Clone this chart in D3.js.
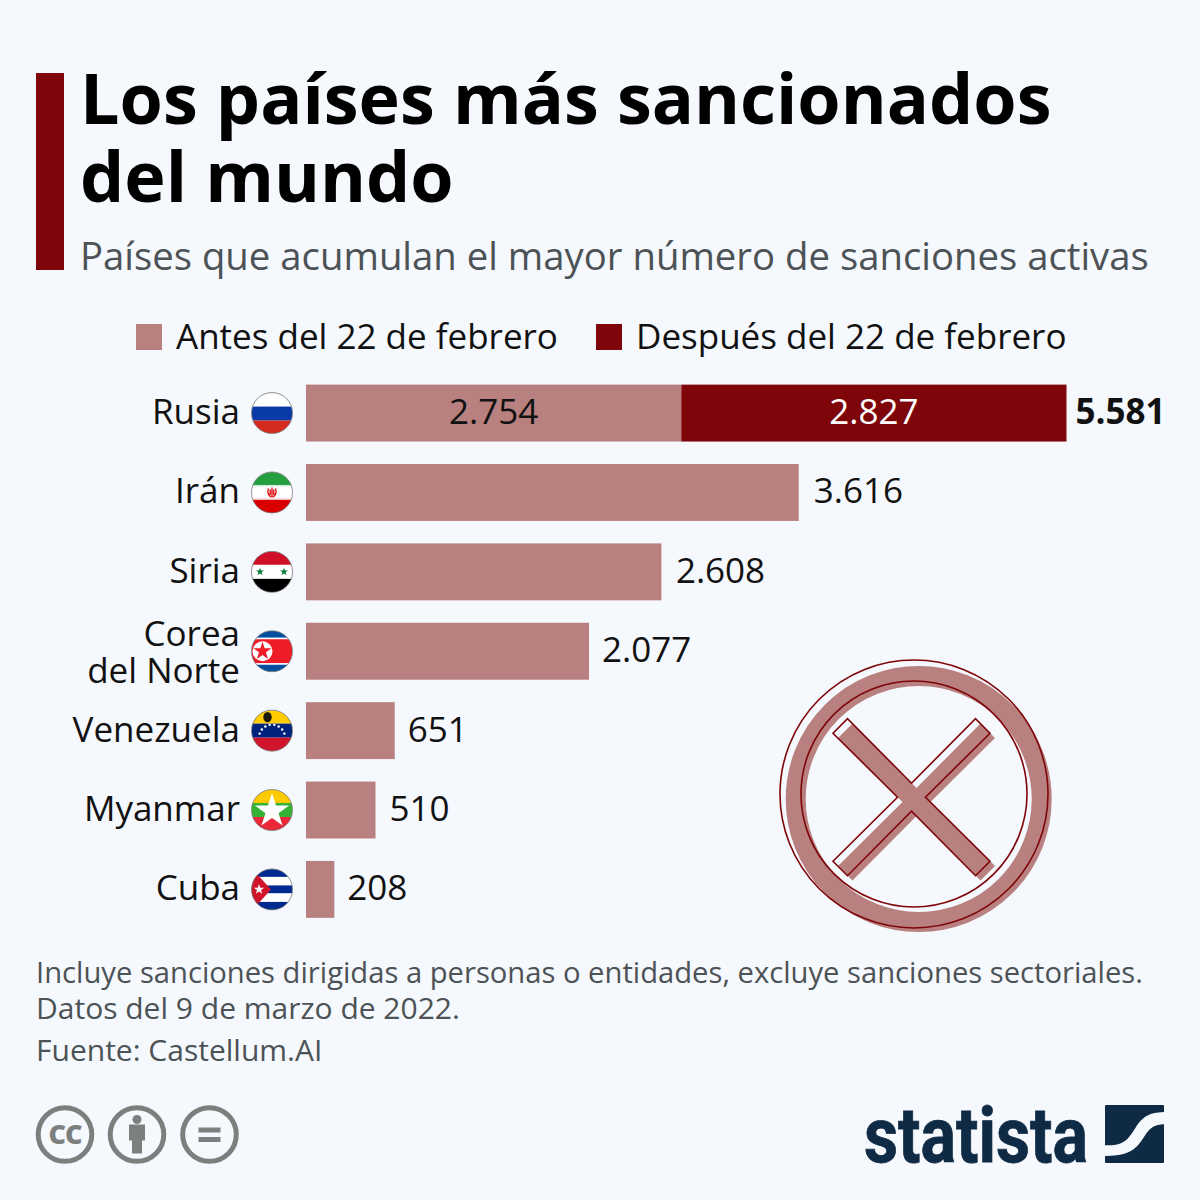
<!DOCTYPE html>
<html lang="es">
<head>
<meta charset="utf-8">
<script src="https://cdn.jsdelivr.net/npm/d3@7"></script>
<style>
  html, body { margin: 0; padding: 0; background: #f5f8fc; }
  svg { display: block; }
  text { font-family: "Open Sans", sans-serif; }
</style>
</head>
<body>
<script>
const countries = ['Rusia', 'Irán', 'Siria', 'Corea del Norte', 'Venezuela', 'Myanmar', 'Cuba'];
const before = [2754, 3616, 2608, 2077, 651, 510, 208];
const after = [2827, 0, 0, 0, 0, 0, 0];
const totalLabels = ['5.581', '3.616', '2.608', '2.077', '651', '510', '208'];
const legendLabels = ['Antes del 22 de febrero', 'Después del 22 de febrero'];
const titleLines = ['Los países más sancionados', 'del mundo'];
const notes = ['Incluye sanciones dirigidas a personas o entidades, excluye sanciones sectoriales.', 'Datos del 9 de marzo de 2022.'];

const fmt = d => d3.format(',')(d).replace(/,/g, '.');
const light = '#b98080', dark = '#7e0509';
const noteColor = '#4c5256';

const svg = d3.select('body').append('svg')
  .attr('width', 1200).attr('height', 1200).attr('viewBox', '0 0 1200 1200');
const defs = svg.append('defs');

// header
svg.append('rect').attr('x', 36).attr('y', 73).attr('width', 28).attr('height', 197).attr('fill', dark);
svg.append('g').selectAll('text').data(titleLines).join('text')
  .attr('x', 80).attr('y', (d, i) => 124 + i * 78)
  .attr('font-size', 70).attr('font-weight', 700).attr('fill', '#000').text(d => d);
svg.append('text').attr('x', 80).attr('y', 270)
  .attr('font-size', 38.3).attr('fill', noteColor)
  .text('Países que acumulan el mayor número de sanciones activas');

// legend
const legendX = [136, 596];
const legend = svg.append('g').selectAll('g').data(legendLabels).join('g')
  .attr('transform', (d, i) => `translate(${legendX[i]},324)`);
legend.append('rect').attr('width', 26).attr('height', 26).attr('fill', (d, i) => i ? dark : light);
legend.append('text').attr('x', 40).attr('y', 25).attr('font-size', 35).attr('fill', '#111').text(d => d);

// scales
const x = d3.scaleLinear().domain([0, 5581]).range([306, 1066.5]);
const y = d3.scaleBand().domain(countries).range([373.5, 929]).paddingInner(0.283).paddingOuter(0.14);
const cy = d => y(d) + y.bandwidth() / 2;

// bars
const rows = svg.append('g').selectAll('g').data(countries).join('g');
rows.append('rect')
  .attr('x', x(0)).attr('y', d => y(d))
  .attr('width', (d, i) => x(before[i]) - x(0)).attr('height', y.bandwidth())
  .attr('fill', light);
rows.filter((d, i) => after[i] > 0).append('rect')
  .attr('x', (d) => x(before[countries.indexOf(d)])).attr('y', d => y(d))
  .attr('width', d => x(before[countries.indexOf(d)] + after[countries.indexOf(d)]) - x(before[countries.indexOf(d)]))
  .attr('height', y.bandwidth()).attr('fill', dark);

// value labels
const labelGap = [9, 15, 14.5, 13, 13, 14, 13];
rows.append('text')
  .attr('x', (d, i) => x(before[i] + after[i]) + labelGap[i])
  .attr('y', d => cy(d) + 11)
  .attr('font-size', 35).attr('font-weight', (d, i) => i === 0 ? 700 : 400).attr('fill', '#111')
  .text((d, i) => totalLabels[i]);
svg.append('text').attr('x', (x(0) + x(before[0])) / 2).attr('y', cy('Rusia') + 11)
  .attr('text-anchor', 'middle').attr('font-size', 35).attr('fill', '#111').text(fmt(before[0]));
svg.append('text').attr('x', (x(before[0]) + x(before[0] + after[0])) / 2 ).attr('y', cy('Rusia') + 11)
  .attr('text-anchor', 'middle').attr('font-size', 35).attr('fill', '#fff').text(fmt(after[0]));

// category labels
rows.each(function (d) {
  const g = d3.select(this);
  const lines = d === 'Corea del Norte' ? ['Corea', 'del Norte'] : [d];
  lines.forEach((l, i) => {
    g.append('text').attr('x', 240).attr('text-anchor', 'end')
      .attr('y', cy(d) + (lines.length > 1 ? 13 : 11) + (i - (lines.length - 1) / 2) * 37)
      .attr('font-size', 35).attr('fill', '#111').text(l);
  });
});

// flags, all in a 41x41 box around the row centre
const flagR = 20.5;
const stripes = {
  'Rusia': [[0, 14, '#ffffff'], [14, 14, '#0a3aa5'], [28, 13, '#d52b1e']],
  'Irán': [[0, 13, '#239f40'], [13, 1.5, '#cfe8d4'], [14.5, 12, '#ffffff'], [26.5, 1.5, '#f4c6c6'], [28, 13, '#da0000']],
  'Siria': [[0, 13.5, '#ce1126'], [13.5, 14, '#ffffff'], [27.5, 13.5, '#000000']],
  'Corea del Norte': [[0, 7, '#024fa2'], [7, 1.5, '#ffffff'], [8.5, 24, '#ed1c27'], [32.5, 1.5, '#ffffff'], [34, 7, '#024fa2']],
  'Venezuela': [[0, 13.5, '#ffcc00'], [13.5, 14, '#00247d'], [27.5, 13.5, '#cf142b']],
  'Myanmar': [[0, 13.5, '#fecb00'], [13.5, 14, '#34b233'], [27.5, 13.5, '#ea2839']],
  'Cuba': [[0, 8, '#002a8f'], [8, 8.5, '#ffffff'], [16.5, 8, '#002a8f'], [24.5, 8.5, '#ffffff'], [33, 8, '#002a8f']]
};
const starPath = (r, inner = 0.382) => d3.range(10).map(k => {
  const a = k * Math.PI / 5 - Math.PI / 2, q = k % 2 ? r * inner : r;
  return (k ? 'L' : 'M') + (q * Math.cos(a)).toFixed(2) + ',' + (q * Math.sin(a)).toFixed(2);
}).join('') + 'Z';

countries.forEach((c, n) => {
  const id = 'flag' + n;
  defs.append('clipPath').attr('id', id).append('circle').attr('r', flagR);
  const g = svg.append('g').attr('transform', `translate(272,${cy(c)})`);
  const f = g.append('g').attr('clip-path', `url(#${id})`);
  f.selectAll('rect').data(stripes[c]).join('rect')
    .attr('x', -flagR).attr('width', 2 * flagR)
    .attr('y', d => d[0] - flagR).attr('height', d => d[1]).attr('fill', d => d[2]);
  if (c === 'Irán') {
    f.append('path').attr('d', 'M-3.5,-4C-5.5,0 -3,3.5 -1,4.5M3.5,-4C5.5,0 3,3.5 1,4.5M0,-5V5M-1.8,-3V2.5M1.8,-3V2.5')
      .attr('fill', 'none').attr('stroke', '#da0000').attr('stroke-width', 1.3);
  }
  if (c === 'Siria') {
    [-12, 12].forEach(dx => f.append('path').attr('d', starPath(4.3)).attr('transform', `translate(${dx},0)`).attr('fill', '#007a3d'));
  }
  if (c === 'Corea del Norte') {
    f.append('circle').attr('cx', -9.5).attr('r', 10).attr('fill', '#fff');
    f.append('path').attr('d', starPath(9.5)).attr('transform', 'translate(-9.5,0)').attr('fill', '#ed1c27');
  }
  if (c === 'Venezuela') {
    f.append('ellipse').attr('cx', -4.5).attr('cy', -13.5).attr('rx', 4.2).attr('ry', 5.2).attr('fill', '#1a1a10');
    d3.range(8).forEach(k => {
      const a = Math.PI * (1.1 + 0.8 * k / 7);
      f.append('circle').attr('cx', 13 * Math.cos(a)).attr('cy', 7 + 13 * Math.sin(a)).attr('r', 1.2).attr('fill', '#fff');
    });
  }
  if (c === 'Myanmar') {
    f.append('path').attr('d', starPath(18)).attr('transform', 'translate(0,1)').attr('fill', '#fff');
  }
  if (c === 'Cuba') {
    f.append('path').attr('d', `M-${flagR},-${flagR + 1}L-1,0L-${flagR},${flagR + 1}Z`).attr('fill', '#cf142b');
    f.append('path').attr('d', starPath(5.5)).attr('transform', 'translate(-13,0)').attr('fill', '#fff');
  }
  g.append('circle').attr('r', flagR).attr('fill', 'none').attr('stroke', '#777').attr('stroke-width', 0.8);
});

// crossed circle: filled shape offset from its outline
const crossPath = 'M0,-14L64,-78.5L78.5,-64L14,0L78.5,64L64,78.5L0,14L-64,78.5L-78.5,64L-14,0L-78.5,-64L-64,-78.5Z';
svg.append('circle').attr('cx', 918.7).attr('cy', 799).attr('r', 123)
  .attr('fill', 'none').attr('stroke', light).attr('stroke-width', 20);
svg.append('path').attr('d', crossPath).attr('transform', 'translate(916.5,802)').attr('fill', light);
svg.append('circle').attr('cx', 914).attr('cy', 794).attr('r', 134)
  .attr('fill', 'none').attr('stroke', dark).attr('stroke-width', 1.6);
svg.append('circle').attr('cx', 914).attr('cy', 794).attr('r', 113)
  .attr('fill', 'none').attr('stroke', dark).attr('stroke-width', 1.6);
svg.append('path').attr('d', crossPath).attr('transform', 'translate(911.5,797.2)')
  .attr('fill', 'none').attr('stroke', dark).attr('stroke-width', 1.6);

// notes
const noteSize = [29.2, 30];
svg.append('g').selectAll('text').data(notes).join('text')
  .attr('x', 36).attr('y', (d, i) => 983 + i * 36)
  .attr('font-size', (d, i) => noteSize[i]).attr('fill', noteColor).text(d => d);
svg.append('text').attr('x', 36).attr('y', 1061)
  .attr('font-size', 30).attr('fill', noteColor).text('Fuente: Castellum.AI');

// licence icons
const grey = '#7b807e';
const icons = svg.append('g').selectAll('g').data([65, 137, 209.5]).join('g')
  .attr('transform', d => `translate(${d},1134.5)`);
icons.append('circle').attr('r', 26.8).attr('fill', 'none').attr('stroke', grey).attr('stroke-width', 5);
icons.filter((d, i) => i === 0).append('text').attr('text-anchor', 'middle').attr('y', 9.5)
  .attr('font-size', 27).attr('font-weight', 800).attr('letter-spacing', -1).attr('fill', grey).text('CC');
const person = icons.filter((d, i) => i === 1);
person.append('circle').attr('cy', -15).attr('r', 4.5).attr('fill', grey);
person.append('path').attr('d', 'M-8,-10H8V6H5V19H-5V6H-8Z').attr('fill', grey);
const eq = icons.filter((d, i) => i === 2);
eq.selectAll('rect').data([-7, 2.5]).join('rect')
  .attr('x', -11).attr('width', 22).attr('y', d => d).attr('height', 5).attr('fill', grey);

// statista logo
const navy = '#0f2a44';
svg.append('text').attr('x', 864).attr('y', 1162)
  .style('font-family', '"Liberation Sans Narrow", "Roboto", sans-serif')
  .attr('font-size', 78).attr('font-weight', 700).attr('fill', navy)
  .attr('stroke', navy).attr('stroke-width', 0.8)
  .attr('textLength', 224).attr('lengthAdjust', 'spacingAndGlyphs').text('statista');
svg.append('rect').attr('x', 1105).attr('y', 1105).attr('width', 59).attr('height', 58).attr('rx', 1).attr('fill', navy);
svg.append('path')
  .attr('d', 'M1102,1145 C1125,1147 1128,1139 1136,1127 C1143,1116 1150,1112 1167,1112 L1167,1124 C1155,1124 1150,1127 1144,1137 C1135,1151 1128,1156 1102,1156 Z')
  .attr('fill', '#f5f8fc');
</script>
</body>
</html>
